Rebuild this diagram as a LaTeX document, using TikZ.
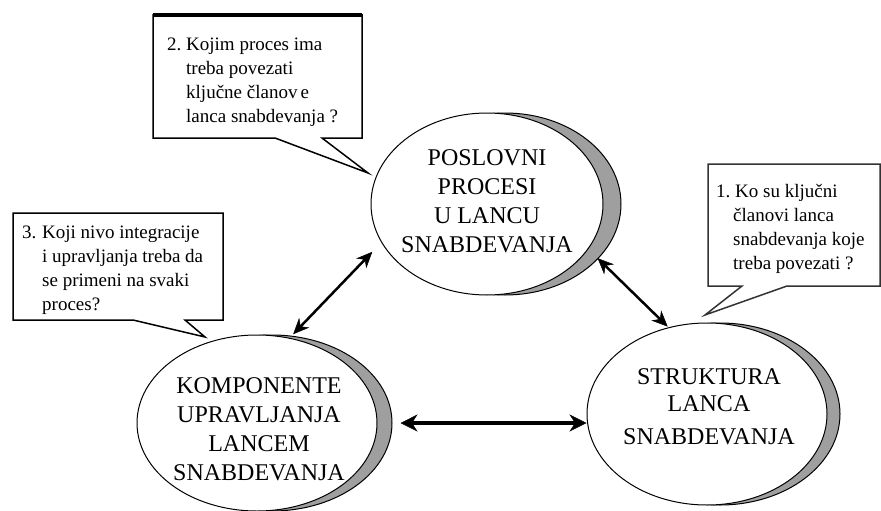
\documentclass[tikz,border=0pt]{standalone}
\usepackage{fontspec}
\setmainfont{Liberation Serif}
\usetikzlibrary{shapes.geometric,arrows.meta}

\tikzset{
  oval/.style={ellipse, draw=black, line width=1pt, fill=white, inner sep=0pt},
  ovalshadow/.style={oval, fill=gray!75},
  bigtext/.style={align=center, inner sep=0pt, font=\fontsize{24}{29}\selectfont},
  question/.style={align=left, anchor=base west, inner sep=0pt, font=\fontsize{19}{24}\selectfont},
  bubble/.style={draw=black, line width=1.5pt, fill=white, line join=miter},
  link/.style={{Stealth[length=16pt,width=14pt,line width=0.5pt]}-{Stealth[length=16pt,width=14pt,line width=0.5pt]}, line width=2.5pt},
  biglink/.style={{Stealth[length=17pt,width=17pt,line width=0.5pt]}-{Stealth[length=17pt,width=17pt,line width=0.5pt]}, line width=4.5pt},
}

\begin{document}
\begin{tikzpicture}[x=1pt,y=-1pt]
    \useasboundingbox (0,0) rectangle (881,511);

    % speech bubbles
    \draw[bubble] (153,15) -- (362,15) -- (362,138) -- (322,138) -- (368,173) -- (275,138) -- (153,138) -- cycle;
    \draw[line width=3.5pt] (153,15) -- (362,15);
    \draw[bubble] (13,213) -- (223,213) -- (223,320) -- (185,320) -- (205,337) -- (133,320) -- (13,320) -- cycle;
    \draw[bubble, draw=black!80] (708,164) -- (880,164) -- (880,286) -- (787,286) -- (705,315) -- (742,286) -- (708,286) -- cycle;

    % base anchor sits on the last line
    \node[question] (q2) at (167,122) {\makebox[19pt][l]{2.}Kojim proces ima\\
        \hspace*{19pt}treba povezati\\
        \hspace*{19pt}ključne članov\,e\\
        \hspace*{19pt}lanca snabdevanja ?};
    \node[question] (q3) at (22,310) {\makebox[20pt][l]{3.}Koji nivo integracije\\
        \hspace*{20pt}i upravljanja treba da\\
        \hspace*{20pt}se primeni na svaki\\
        \hspace*{20pt}proces?};
    \node[question] (q1) at (716,269) {\makebox[19pt][l]{1.}Ko su ključni\\
        \hspace*{17pt}članovi lanca\\
        \hspace*{17pt}snabdevanja koje\\
        \hspace*{17pt}treba povezati ?};

    % ovals with their shadows
    \node[ovalshadow, minimum width=232pt, minimum height=182pt] (procesi-sh) at (505,204) {};
    \node[oval, minimum width=232pt, minimum height=182pt] (procesi) at (487,204) {};
    \node[bigtext] (procesi-txt) at (487,201) {POSLOVNI\\PROCESI\\U LANCU\\SNABDEVANJA};

    \node[ovalshadow, minimum width=240pt, minimum height=176pt] (komponente-sh) at (272,423) {};
    \node[oval, minimum width=240pt, minimum height=176pt] (komponente) at (257,423) {};
    \node[bigtext] (komponente-txt) at (259,429) {KOMPONENTE\\UPRAVLJANJA\\LANCEM\\SNABDEVANJA};

    \node[ovalshadow, minimum width=240pt, minimum height=182pt] (struktura-sh) at (720,414) {};
    \node[oval, minimum width=240pt, minimum height=182pt] (struktura) at (707,414) {};
    \node[bigtext] (struktura-txt) at (709,407) {STRUKTURA\\[-2pt]LANCA\\[4pt]SNABDEVANJA};

    % arrows
    \draw[link, shorten <=5pt, shorten >=13pt] (komponente.69) -- (procesi.200);
    \draw[link, shorten <=13pt, shorten >=1pt] (procesi.336) -- (struktura.114);
    \draw[biglink, shorten <=8pt] (komponente-sh.east) -- (komponente-sh.east -| struktura.west);
\end{tikzpicture}
\end{document}
